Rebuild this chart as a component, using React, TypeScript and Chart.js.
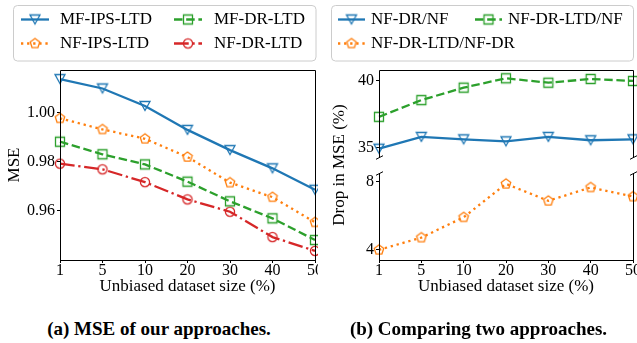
import React, { useEffect, useRef } from "react";
import { Chart, registerables } from "chart.js";

Chart.register(...registerables);

// ---------- data ----------
const sizes = ["1", "5", "10", "20", "30", "40", "50"];

const mfIpsLtd = [1.0135, 1.0097, 1.0026, 0.9929, 0.9847, 0.9773, 0.9686];
const nfIpsLtd = [0.9976, 0.9931, 0.9893, 0.9819, 0.9715, 0.9656, 0.9554];
const mfDrLtd = [0.9881, 0.983, 0.9789, 0.9719, 0.9639, 0.957, 0.9482];
const nfDrLtd = [0.9792, 0.9769, 0.9717, 0.9647, 0.9597, 0.9494, 0.9438];
const mseTicks = [0.96, 0.98, 1.0];

const nfDrVsNf = [34.92, 35.8, 35.62, 35.47, 35.8, 35.55, 35.62];
const nfDrLtdVsNf = [37.3, 38.55, 39.48, 40.18, 39.85, 40.13, 39.98];
const nfDrLtdVsNfDr = [3.97, 4.69, 5.89, 7.86, 6.86, 7.65, 7.11];
const dropTicksHigh = [35, 40];
const dropTicksLow = [4, 8];

// ---------- styles ----------
const BLUE = "#1f77b4";
const ORANGE = "#ff7f0e";
const GREEN = "#2ca02c";
const RED = "#d62728";
const LW = 2.3;
const SOLID: number[] = [];
const DOTTED = [LW * 1, LW * 1.65];
const DASHED = [LW * 3.7, LW * 1.6];
const DASHDOT = [LW * 6.4, LW * 1.6, LW * 1, LW * 1.6];
const SERIF = '"Liberation Serif", "Times New Roman", serif';

function makeMarker(kind: string, color: string): HTMLCanvasElement {
  const s = 16;
  const c = document.createElement("canvas");
  c.width = s;
  c.height = s;
  const ctx = c.getContext("2d")!;
  ctx.translate(s / 2, s / 2);
  ctx.strokeStyle = color;
  ctx.lineWidth = 1.3;
  ctx.lineJoin = "miter";
  ctx.beginPath();
  if (kind === "tri") {
    ctx.moveTo(-5, -4.5);
    ctx.lineTo(5, -4.5);
    ctx.lineTo(0, 4.5);
    ctx.closePath();
  } else if (kind === "square") {
    ctx.rect(-4.5, -4.5, 9, 9);
  } else if (kind === "circle") {
    ctx.arc(0, 0, 4.6, 0, Math.PI * 2);
  } else if (kind === "pent") {
    for (let i = 0; i < 5; i++) {
      const a = -Math.PI / 2 + (i * 2 * Math.PI) / 5;
      const x = Math.cos(a) * 5;
      const y = Math.sin(a) * 5;
      if (i === 0) ctx.moveTo(x, y);
      else ctx.lineTo(x, y);
    }
    ctx.closePath();
  }
  ctx.stroke();
  return c;
}

type LegendEntry = {
  label: string;
  color: string;
  dash: number[];
  marker: HTMLCanvasElement;
  x1: number;
  x2: number;
  tx: number;
  y: number;
};

function legendPlugin(box: { x: number; y: number; w: number; h: number }, entries: LegendEntry[]) {
  return {
    id: "customLegend",
    afterDraw(chart: any) {
      const ctx = chart.ctx as CanvasRenderingContext2D;
      ctx.save();
      const r = 4;
      ctx.beginPath();
      ctx.moveTo(box.x + r, box.y);
      ctx.arcTo(box.x + box.w, box.y, box.x + box.w, box.y + box.h, r);
      ctx.arcTo(box.x + box.w, box.y + box.h, box.x, box.y + box.h, r);
      ctx.arcTo(box.x, box.y + box.h, box.x, box.y, r);
      ctx.arcTo(box.x, box.y, box.x + box.w, box.y, r);
      ctx.closePath();
      ctx.fillStyle = "rgba(255,255,255,0.8)";
      ctx.fill();
      ctx.strokeStyle = "#cccccc";
      ctx.lineWidth = 1;
      ctx.stroke();
      for (const e of entries) {
        ctx.beginPath();
        ctx.setLineDash(e.dash);
        ctx.lineDashOffset = 0;
        ctx.strokeStyle = e.color;
        ctx.lineWidth = LW;
        ctx.lineCap = "butt";
        ctx.moveTo(e.x1, e.y);
        ctx.lineTo(e.x2, e.y);
        ctx.stroke();
        ctx.setLineDash([]);
        const cx = (e.x1 + e.x2) / 2;
        ctx.drawImage(e.marker, cx - e.marker.width / 2, e.y - e.marker.height / 2);
        ctx.fillStyle = "#000";
        ctx.font = `17px ${SERIF}`;
        ctx.textBaseline = "middle";
        ctx.textAlign = "left";
        ctx.fillText(e.label, e.tx, e.y);
      }
      ctx.restore();
    },
  };
}

function framePlugin(sp: { top: boolean; bottom: boolean; breakTop: boolean; breakBottom: boolean }) {
  return {
    id: "frame",
    afterDraw(chart: any) {
      const ctx = chart.ctx as CanvasRenderingContext2D;
      const a = chart.chartArea;
      const l = Math.round(a.left) + 0.5;
      const rt = Math.round(a.right) + 0.5;
      const t = Math.round(a.top) + 0.5;
      const b = Math.round(a.bottom) + 0.5;
      ctx.save();
      ctx.strokeStyle = "#000";
      ctx.lineWidth = 1;
      ctx.beginPath();
      ctx.moveTo(l, t);
      ctx.lineTo(l, b);
      ctx.moveTo(rt, t);
      ctx.lineTo(rt, b);
      if (sp.top) {
        ctx.moveTo(l, t);
        ctx.lineTo(rt, t);
      }
      if (sp.bottom) {
        ctx.moveTo(l, b);
        ctx.lineTo(rt, b);
      }
      ctx.stroke();
      ctx.beginPath();
      const mark = (x: number, y: number) => {
        ctx.moveTo(x - 3.5, y + 1.8);
        ctx.lineTo(x + 3.5, y - 1.8);
      };
      if (sp.breakBottom) {
        mark(l, b);
        mark(rt, b);
      }
      if (sp.breakTop) {
        mark(l, t);
        mark(rt, t);
      }
      ctx.stroke();
      ctx.restore();
    },
  };
}

function yScale(min: number, max: number, ticks: number[], fmt: (v: number) => string, width: number, title?: string) {
  return {
    type: "linear",
    min,
    max,
    afterBuildTicks: (s: any) => {
      s.ticks = ticks.map((v) => ({ value: v }));
    },
    afterFit: (s: any) => {
      s.width = width;
      s.paddingTop = 0;
      s.paddingBottom = 0;
    },
    ticks: {
      font: { family: SERIF, size: 16 },
      color: "#000",
      padding: 2,
      callback: (v: any) => fmt(Number(v)),
    },
    grid: { drawOnChartArea: false, drawTicks: true, tickLength: 3, color: "#000", lineWidth: 1 },
    border: { display: false },
    title: title
      ? { display: true, text: title, font: { family: SERIF, size: 17 }, color: "#000", padding: { top: 4, bottom: 0 } }
      : { display: false },
  };
}

function xScale(show: boolean) {
  if (!show) {
    return { type: "category", display: false, offset: false };
  }
  return {
    type: "category",
    offset: false,
    afterFit: (s: any) => {
      s.height = 40;
      s.paddingLeft = 0;
      s.paddingRight = 0;
    },
    ticks: { font: { family: SERIF, size: 16 }, color: "#000", padding: -2, maxRotation: 0, autoSkip: false },
    grid: { drawOnChartArea: false, drawTicks: true, tickLength: 3, color: "#000", offset: false },
    border: { display: false },
    title: {
      display: true,
      text: "Unbiased dataset size (%)",
      font: { family: SERIF, size: 17 },
      color: "#000",
      padding: { top: 0, bottom: 3 },
    },
  };
}

function ds(label: string, data: number[], color: string, dash: number[], marker: HTMLCanvasElement) {
  return {
    label,
    data,
    borderColor: color,
    backgroundColor: color,
    borderWidth: LW,
    borderDash: dash,
    borderCapStyle: "butt",
    pointStyle: marker,
    pointRadius: 5,
    pointHoverRadius: 5,
    tension: 0,
    clip: false,
    fill: false,
  };
}

function baseOptions(padding: any, scales: any) {
  return {
    responsive: false,
    animation: false,
    devicePixelRatio: 1,
    events: [],
    layout: { padding },
    plugins: { legend: { display: false }, tooltip: { enabled: false } },
    scales,
  };
}

function ChartCanvas({ width, height, make }: { width: number; height: number; make: () => any }) {
  const ref = useRef<HTMLCanvasElement | null>(null);
  useEffect(() => {
    const chart = new Chart(ref.current as HTMLCanvasElement, make());
    return () => chart.destroy();
  }, []);
  return <canvas ref={ref} width={width} height={height} style={{ display: "block", width, height }} />;
}

function makeLeft() {
  const mTri = makeMarker("tri", BLUE);
  const mPent = makeMarker("pent", ORANGE);
  const mSq = makeMarker("square", GREEN);
  const mCirc = makeMarker("circle", RED);
  return {
    type: "line",
    data: {
      labels: sizes,
      datasets: [
        ds("MF-IPS-LTD", mfIpsLtd, BLUE, SOLID, mTri),
        ds("NF-IPS-LTD", nfIpsLtd, ORANGE, DOTTED, mPent),
        ds("MF-DR-LTD", mfDrLtd, GREEN, DASHED, mSq),
        ds("NF-DR-LTD", nfDrLtd, RED, DASHDOT, mCirc),
      ],
    },
    options: baseOptions(
      { top: 70, right: 15, left: 0, bottom: 0 },
      {
        x: xScale(true),
        y: yScale(0.9401, 1.0172, mseTicks, (v) => v.toFixed(2), 60, "MSE"),
      }
    ),
    plugins: [
      framePlugin({ top: true, bottom: true, breakTop: false, breakBottom: false }),
      legendPlugin({ x: 13.5, y: 5.5, w: 302.5, h: 55.5 }, [
        { label: "MF-IPS-LTD", color: BLUE, dash: SOLID, marker: mTri, x1: 21, x2: 49, tx: 60, y: 19.5 },
        { label: "NF-IPS-LTD", color: ORANGE, dash: DOTTED, marker: mPent, x1: 21, x2: 49, tx: 60, y: 43.5 },
        { label: "MF-DR-LTD", color: GREEN, dash: DASHED, marker: mSq, x1: 174, x2: 202, tx: 214, y: 19.5 },
        { label: "NF-DR-LTD", color: RED, dash: DASHDOT, marker: mCirc, x1: 174, x2: 202, tx: 214, y: 43.5 },
      ]),
    ],
  };
}

function makeRightTop() {
  const mTri = makeMarker("tri", BLUE);
  const mPent = makeMarker("pent", ORANGE);
  const mSq = makeMarker("square", GREEN);
  return {
    type: "line",
    data: {
      labels: sizes,
      datasets: [
        ds("NF-DR/NF", nfDrVsNf, BLUE, SOLID, mTri),
        ds("NF-DR-LTD/NF", nfDrLtdVsNf, GREEN, DASHED, mSq),
      ],
    },
    options: baseOptions(
      { top: 70, right: 17, left: 0, bottom: 8 },
      {
        x: xScale(false),
        y: yScale(34.3, 40.8, dropTicksHigh, (v) => String(v), 59),
      }
    ),
    plugins: [
      framePlugin({ top: true, bottom: false, breakTop: false, breakBottom: true }),
      legendPlugin({ x: 11.5, y: 5.5, w: 302, h: 55.5 }, [
        { label: "NF-DR/NF", color: BLUE, dash: SOLID, marker: mTri, x1: 18, x2: 45, tx: 51, y: 19.5 },
        { label: "NF-DR-LTD/NF-DR", color: ORANGE, dash: DOTTED, marker: mPent, x1: 18, x2: 45, tx: 51, y: 43.5 },
        { label: "NF-DR-LTD/NF", color: GREEN, dash: DASHED, marker: mSq, x1: 155, x2: 182, tx: 188, y: 19.5 },
      ]),
    ],
  };
}

function makeRightBottom() {
  const mPent = makeMarker("pent", ORANGE);
  return {
    type: "line",
    data: {
      labels: sizes,
      datasets: [ds("NF-DR-LTD/NF-DR", nfDrLtdVsNfDr, ORANGE, DOTTED, mPent)],
    },
    options: baseOptions(
      { top: 13, right: 17, left: 0, bottom: 0 },
      {
        x: xScale(true),
        y: yScale(3.37, 8.5, dropTicksLow, (v) => String(v), 59),
      }
    ),
    plugins: [framePlugin({ top: false, bottom: true, breakTop: true, breakBottom: false })],
  };
}

export default function App() {
  const caption: React.CSSProperties = {
    position: "absolute",
    top: 319,
    fontFamily: SERIF,
    fontWeight: "bold",
    fontSize: 19,
    lineHeight: "19px",
    textAlign: "center",
    color: "#000",
    whiteSpace: "nowrap",
  };
  return (
    <div
      style={{
        position: "absolute",
        left: 0,
        top: 0,
        width: 637,
        height: 343,
        overflow: "hidden",
        background: "#fff",
      }}
    >
      <div style={{ position: "absolute", left: 0, top: 0, width: 318, height: 300, overflow: "hidden" }}>
        <ChartCanvas width={330} height={300} make={makeLeft} />
      </div>
      <div style={{ position: "absolute", left: 320, top: 0, width: 317, height: 165, overflow: "hidden" }}>
        <ChartCanvas width={330} height={165} make={makeRightTop} />
      </div>
      <div style={{ position: "absolute", left: 320, top: 160, width: 317, height: 140, overflow: "hidden" }}>
        <ChartCanvas width={330} height={140} make={makeRightBottom} />
      </div>
      <div
        style={{
          position: "absolute",
          left: 239,
          top: 155,
          width: 200,
          height: 20,
          lineHeight: "20px",
          fontFamily: SERIF,
          fontSize: 17,
          textAlign: "center",
          color: "#000",
          transform: "rotate(-90deg)",
          whiteSpace: "nowrap",
        }}
      >
        Drop in MSE (%)
      </div>
      <div style={{ ...caption, left: 0, width: 318 }}>(a) MSE of our approaches.</div>
      <div style={{ ...caption, left: 320, width: 317 }}>(b) Comparing two approaches.</div>
    </div>
  );
}
